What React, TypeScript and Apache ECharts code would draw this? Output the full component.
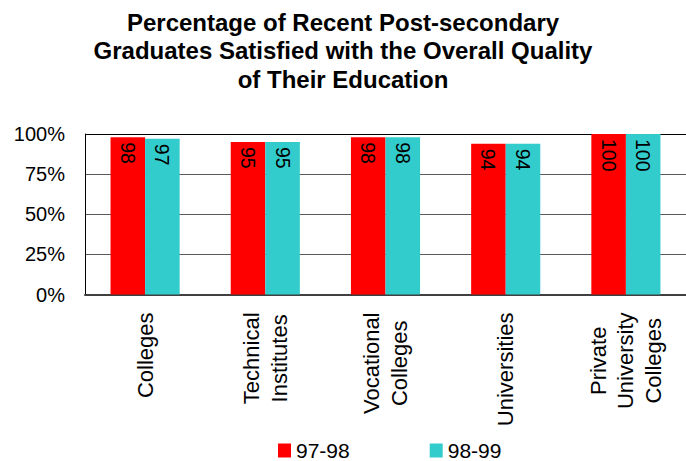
import React, { useEffect, useRef } from "react";
import * as echarts from "echarts";

const titleLines = [
  "Percentage of Recent Post-secondary",
  "Graduates Satisfied with the Overall Quality",
  "of Their Education",
];
const categories = [
  "Colleges",
  "Technical\nInstitutes",
  "Vocational\nColleges",
  "Universities",
  "Private\nUniversity\nColleges",
];
const seriesNames = ["97-98", "98-99"];
const values9798 = [98, 95, 98, 94, 100];
const values9899 = [97, 95, 98, 94, 100];
const yTicks = [0, 25, 50, 75, 100];

const FONT = "'Liberation Sans', Arial, Helvetica, sans-serif";

export default function App() {
  const ref = useRef<HTMLDivElement>(null);
  useEffect(() => {
    if (!ref.current) return;
    const chart = echarts.init(ref.current, null, { renderer: "svg" });
    const valueLabel = {
      show: true,
      position: "insideTop",
      distance: 5,
      rotate: -90,
      align: "left",
      verticalAlign: "middle",
      color: "#000",
      fontSize: 19.5,
      fontFamily: FONT,
    };
    chart.setOption({
      animation: false,
      backgroundColor: "#fff",
      title: {
        text: titleLines.join("\n"),
        left: "center",
        top: 8,
        padding: [0, 0, 0, 8],
        textStyle: {
          fontFamily: FONT,
          fontWeight: "bold",
          fontSize: 24,
          lineHeight: 28.5,
          color: "#000",
        },
      },
      legend: {
        data: seriesNames,
        left: 278,
        top: 440,
        padding: 0,
        itemWidth: 13,
        itemHeight: 14,
        itemGap: 80,
        icon: "rect",
        textStyle: { fontFamily: FONT, fontSize: 21, lineHeight: 18, color: "#000" },
      },
      grid: { left: 85, right: 0, top: 134, bottom: 166.5, containLabel: false },
      xAxis: {
        type: "category",
        data: categories,
        axisTick: { show: false },
        axisLine: { show: true, lineStyle: { color: "#404040", width: 2 } },
        axisLabel: {
          rotate: 90,
          margin: 18,
          interval: 0,
          color: "#000",
          fontFamily: FONT,
          fontSize: 22,
          lineHeight: 27.5,
          formatter: (v: string) =>
            v
              .split("\n")
              .map((s) => `{c|${s}}`)
              .join("\n"),
          rich: {
            c: {
              align: "center",
              fontFamily: FONT,
              fontSize: 22,
              lineHeight: 27.5,
              color: "#000",
            },
          },
        },
      },
      yAxis: {
        type: "value",
        min: yTicks[0],
        max: yTicks[yTicks.length - 1],
        interval: 25,
        axisTick: { show: false },
        axisLine: { show: true, lineStyle: { color: "#000", width: 1 } },
        axisLabel: {
          formatter: "{value}%",
          margin: 20,
          color: "#000",
          fontFamily: FONT,
          fontSize: 20,
        },
        splitLine: {
          show: true,
          lineStyle: {
            color: ["#404040", "#5a5a5a", "#5a5a5a", "#5a5a5a", "#000"],
            width: 1,
          },
        },
      },
      series: [
        {
          name: seriesNames[0],
          type: "bar",
          data: values9798,
          barGap: "0%",
          barCategoryGap: "42.5%",
          itemStyle: { color: "#FF0000" },
          label: valueLabel,
        },
        {
          name: seriesNames[1],
          type: "bar",
          data: values9899,
          barGap: "0%",
          barCategoryGap: "42.5%",
          itemStyle: { color: "#33CCCC" },
          label: valueLabel,
        },
      ],
    });
    return () => chart.dispose();
  }, []);
  return (
    <div
      ref={ref}
      style={{ position: "absolute", left: 0, top: 0, width: 686, height: 461 }}
    />
  );
}
